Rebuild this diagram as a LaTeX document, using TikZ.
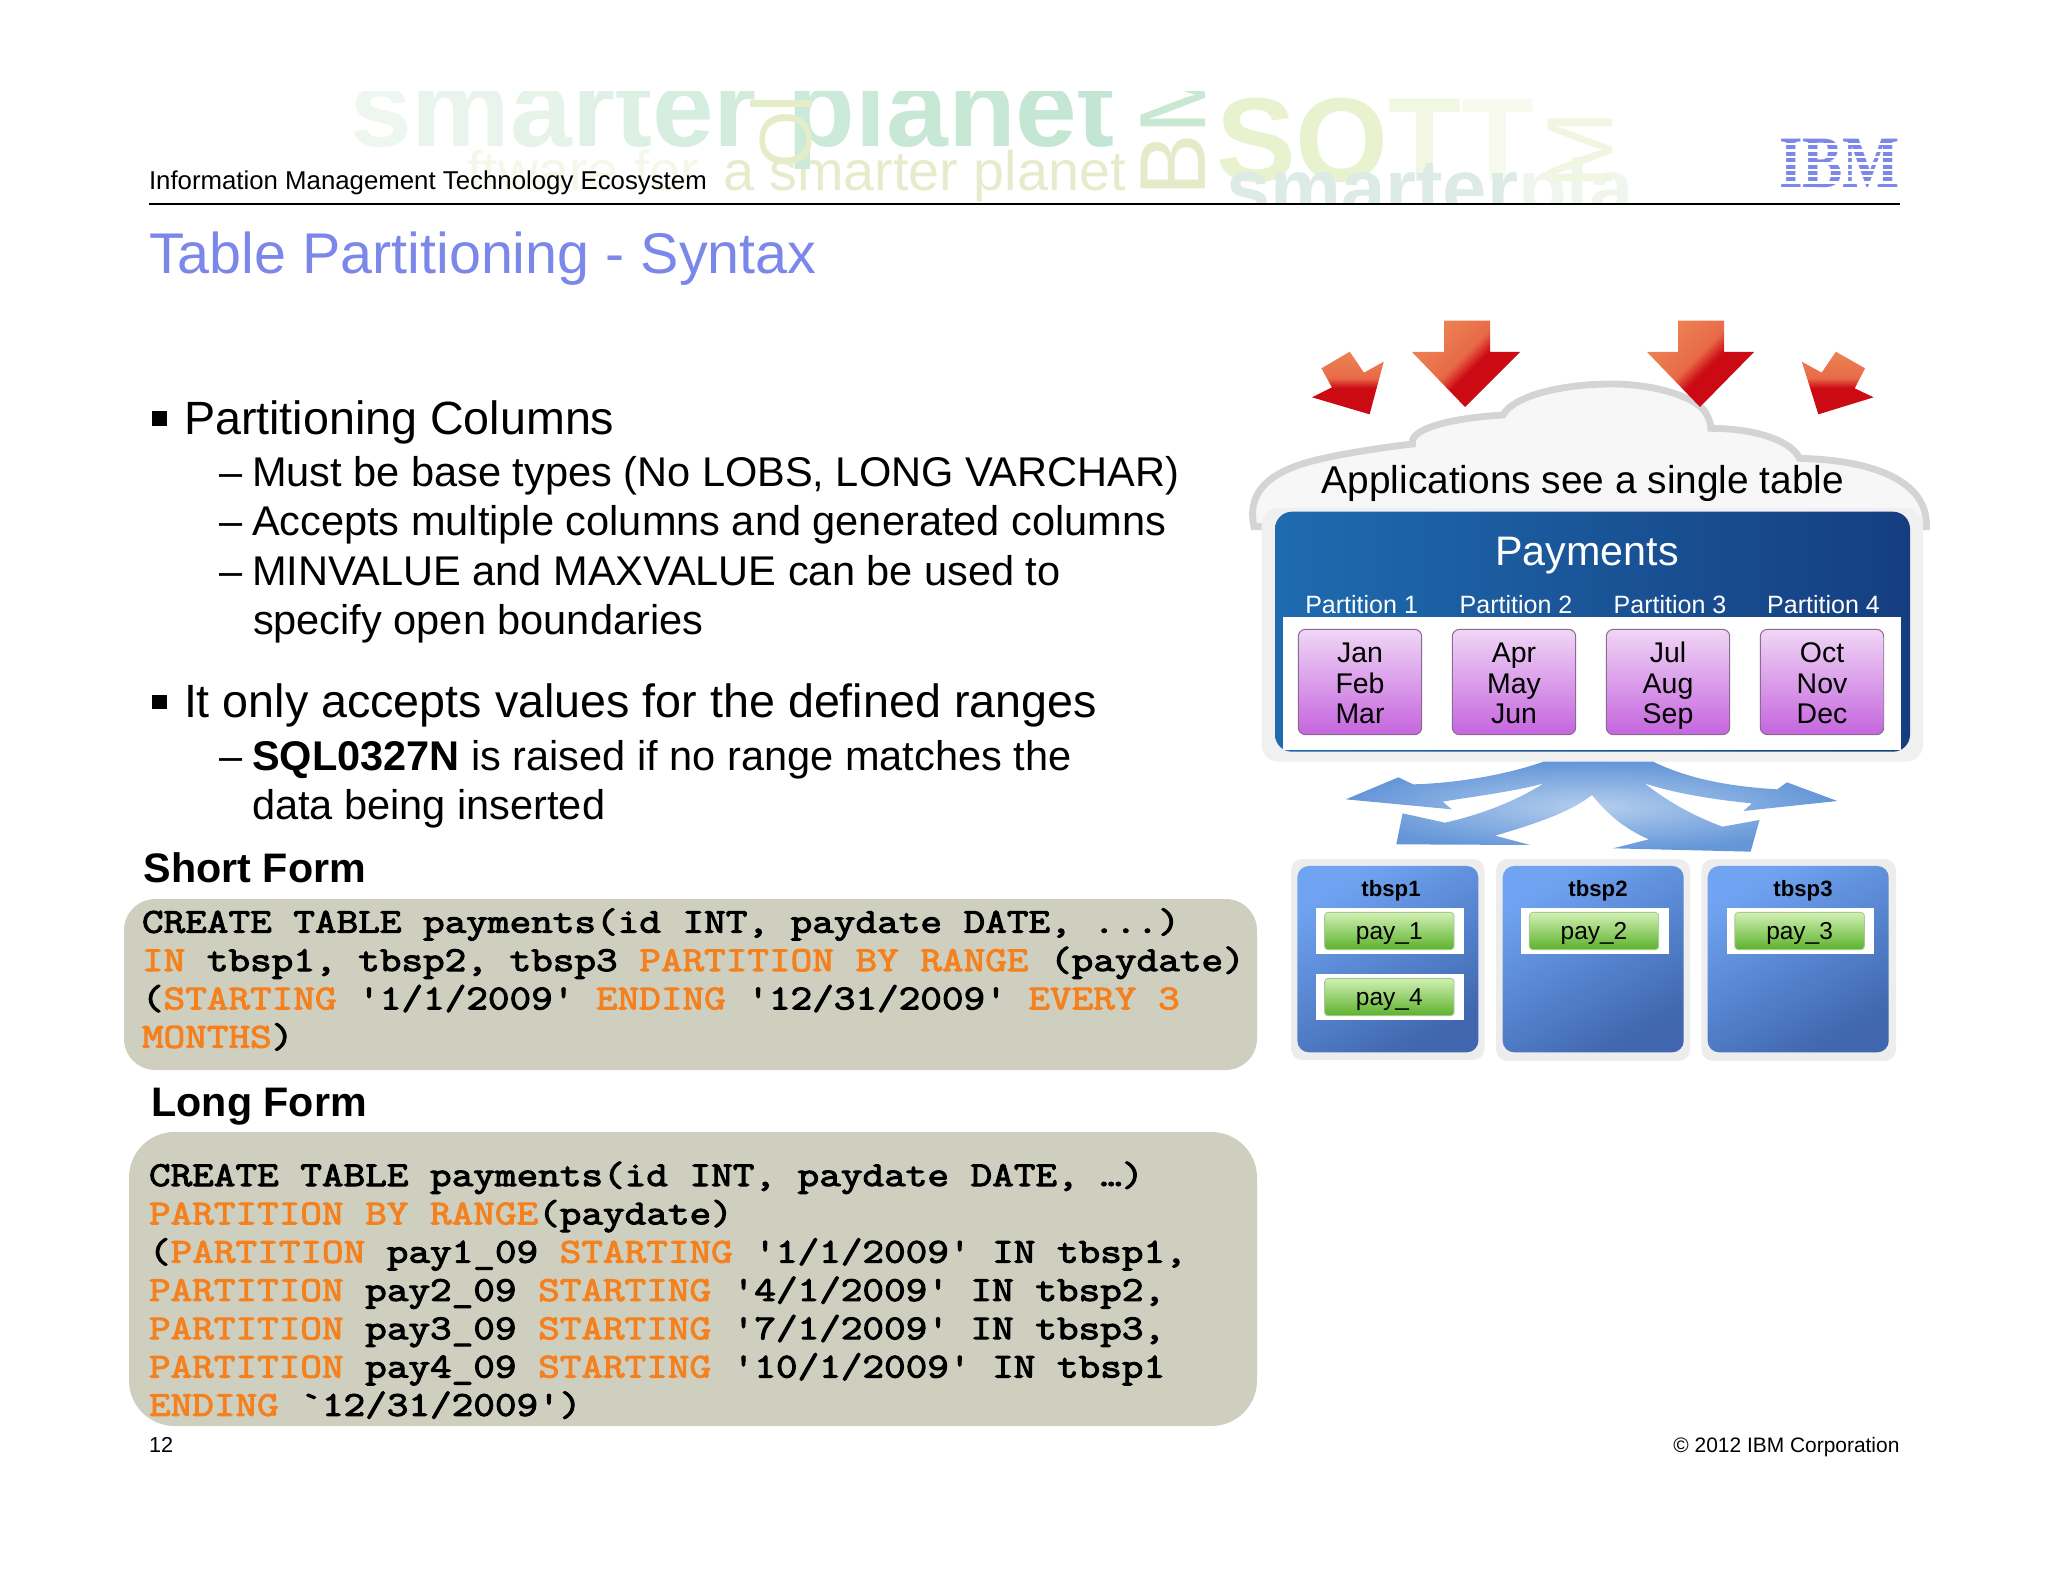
\documentclass[tikz,border=0pt]{standalone}
\usepackage{fontspec}
\usepackage{graphicx}
\setmainfont{Liberation Sans}
\newfontfamily\ibmfont{Liberation Serif}[BoldFont={Liberation Serif Bold}]
\newfontfamily\codefont{Latin Modern Mono}[FakeStretch=1.2,FakeBold=3]
\usetikzlibrary{shadings}
\definecolor{titleblue}{HTML}{7B88EA}
\definecolor{codeor}{HTML}{F5801E}
\definecolor{codebg}{HTML}{CFCFC0}
\definecolor{arrowlt}{HTML}{F2A262}
\definecolor{arrowmd}{HTML}{E86A48}
\definecolor{arrowdk}{HTML}{CC0A14}
\definecolor{MonthEdge}{HTML}{8A6A90}
\definecolor{PayEdge}{HTML}{A9C795}
\definecolor{monthtop}{HTML}{F0D6F5}
\definecolor{monthbot}{HTML}{C565DE}
\definecolor{paytop}{HTML}{D2F0B4}
\definecolor{paybot}{HTML}{5CB22C}
\definecolor{tstop}{HTML}{70A4F2}
\definecolor{tsbot}{HTML}{3F66AE}
\definecolor{panell}{HTML}{1E6BAF}
\definecolor{panelr}{HTML}{153E80}
\definecolor{flowin}{HTML}{B4CEEE}
\definecolor{flowout}{HTML}{6496D8}
\definecolor{wmolive}{HTML}{E6ECCB}
\definecolor{wmfaint}{HTML}{F5F7EA}
\definecolor{wmpale}{HTML}{F0F6E2}
\definecolor{wmring}{HTML}{E5EDC8}
\pgfdeclareverticalshading{arrowshade}{100bp}{color(0bp)=(arrowdk); color(46bp)=(arrowdk); color(54bp)=(arrowmd); color(100bp)=(arrowlt)}
\newcommand{\myfs}[1]{\fontsize{#1}{#1}\selectfont}
\newcommand{\kw}[1]{\textcolor{codeor}{#1}}
\newcommand{\monthtop}{\rule{0pt}{11.1pt}}
\newcommand{\paytopgap}{\rule{0pt}{8.1pt}}
\tikzset{
  txt/.style={anchor=base west,inner sep=0pt,outer sep=0pt},
  ctxt/.style={anchor=base,inner sep=0pt,outer sep=0pt},
  codeline/.style={txt,font=\codefont\myfs{12.3}},
  codebox/.style={fill=codebg,draw=none},
  headingtxt/.style={txt,font=\bfseries\myfs{14.5}},
  bodya/.style={txt,font=\myfs{16.4}},
  bodyb/.style={txt,font=\myfs{14.6}},
  bulletmark/.style={fill=black,inner sep=0pt,minimum size=5.2pt,anchor=center},
  parttxt/.style={ctxt,text=white,font=\myfs{8.8}},
  monthbox/.style={rounded corners=2.5pt,top color=monthtop,bottom color=monthbot,draw=MonthEdge,line width=.35pt,
    minimum width=43.4pt,minimum height=37pt,inner sep=0pt,align=center,font=\fontsize{10}{10.7}\selectfont},
  paybox/.style={rounded corners=1.2pt,top color=paytop,bottom color=paybot,draw=PayEdge,line width=.3pt,
    minimum width=45.5pt,minimum height=13.1pt,inner sep=0pt,font=\myfs{8.6}},
  paywhite/.style={fill=white,draw=none},
  tbspout/.style={fill=black!7,draw=none,rounded corners=4pt},
  tbspin/.style={rounded corners=4pt,top color=tstop,bottom color=tsbot,shading angle=30,draw=none},
  redarrow/.style={shading=arrowshade,draw=none},
  wm/.style={inner sep=0pt,outer sep=0pt}
}
\begin{document}
\begin{tikzpicture}[x=0.3515625pt,y=-0.3515625pt]
\useasboundingbox (0,0) rectangle (2048,1582);
% watermark
\begin{scope}
\clip (100,92) rectangle (1900,204);
\node[wm,txt,font=\bfseries\myfs{42}] (wmsoft) at (1216,182) {\textcolor[HTML]{E9F2CF}{SO}\textcolor[HTML]{F2F7E4}{T}\textcolor[HTML]{F8FAF0}{T}};
\node[wm,txt,font=\myfs{19.6},text=wmfaint] (wmsoftware) at (467,191) {ftware for};
\node[wm,txt,font=\myfs{19.6},text=wmolive] (wmsmall) at (723,191) {a smarter planet};
\node[wm,txt,font=\bfseries\myfs{28}] (wmbottom) at (1226,216) {\textcolor[HTML]{DCEBE6}{smarter}\textcolor[HTML]{F0F6EE}{ pla}};
\node[wm,txt,font=\bfseries\myfs{39}] (wmbig) at (350,147) {\textcolor[HTML]{EDF6EF}{s}\textcolor[HTML]{E9F5EC}{m}\textcolor[HTML]{E5F3E9}{a}\textcolor[HTML]{DFF1E6}{r}\textcolor[HTML]{DCF0E4}{t}\textcolor[HTML]{D6EEE0}{e}\textcolor[HTML]{D2ECDC}{r} \textcolor[HTML]{CCEADA}{p}\textcolor[HTML]{CAE9D8}{l}\textcolor[HTML]{C8E8D6}{a}\textcolor[HTML]{C6E8D5}{n}\textcolor[HTML]{C4E7D4}{e}\textcolor[HTML]{C2E6D3}{t}};
\node[wm,txt,rotate=90,font=\myfs{33}] (wmbm) at (1205,197) {\textcolor[HTML]{E3EBC8}{B}\textcolor[HTML]{C8E8D2}{M}};
\node[wm,txt,rotate=90,font=\myfs{33},text=wmpale] (wmm) at (1612,190) {M};
\node[wm,anchor=center,rotate=90,font=\myfs{26},text=wmring] (wmo) at (786,140) {O};
\fill[wmring] (750,100) rectangle (812,107);
\end{scope}
% header
\node[txt,font=\myfs{9.07}] (header) at (149,190) {Information Management Technology Ecosystem};
\coordinate (ruleL) at (149,204);
\coordinate (ruleR) at (1900,204);
\draw[line width=.9pt,black] (ruleL) -- (ruleR);
\node[txt,font=\myfs{20.2},text=titleblue] (title) at (149,274) {Table Partitioning - Syntax};
% IBM logo
\node[inner sep=0pt,outer sep=0pt,anchor=center,text=titleblue,font=\ibmfont\bfseries] (ibm) at (1839.5,163) {\resizebox{42.5pt}{17pt}{IBM}};
\foreach \k in {0,...,6}{\fill[white] (1775,{143+\k*6.4}) rectangle (1905,{145.4+\k*6.4});}
% body
\node[bulletmark] (b1) at (159.5,418.5) {};
\node[bodya] (t1) at (184,435) {Partitioning Columns};
\node[bodyb] (d1) at (219.5,486.5) {–};
\node[bodyb] (t2) at (252,486.5) {Must be base types (No LOBS, LONG VARCHAR)};
\node[bodyb] (d2) at (219.5,536) {–};
\node[bodyb] (t3) at (252,536) {Accepts multiple columns and generated columns};
\node[bodyb] (d3) at (219.5,585.5) {–};
\node[bodyb] (t4) at (252,585.5) {MINVALUE and MAXVALUE can be used to};
\node[bodyb] (t5) at (253,635) {specify open boundaries};
\node[bulletmark] (b2) at (159.5,702) {};
\node[bodya] (t6) at (184,718) {It only accepts values for the defined ranges};
\node[bodyb] (d4) at (219.5,770.5) {–};
\node[bodyb] (t7) at (252,770.5) {\textbf{SQL0327N} is raised if no range matches the};
\node[bodyb] (t8) at (252,820) {data being inserted};
% short form
\node[headingtxt] (short) at (143.7,882.5) {Short Form};
\path[codebox,rounded corners=11pt] (124,899) rectangle (1257,1070);
\node[codeline] (s1) at (142,932.7) {CREATE TABLE payments(id INT, paydate DATE, ...)};
\node[codeline] (s2) at (142,971) {\kw{IN} tbsp1, tbsp2, tbsp3 \kw{PARTITION BY RANGE} (paydate)};
\node[codeline] (s3) at (142,1009.3) {(\kw{STARTING} '1/1/2009' \kw{ENDING} '12/31/2009' \kw{EVERY 3}};
\node[codeline] (s4) at (142,1047.6) {\kw{MONTHS})};
% long form
\node[headingtxt] (long) at (151.5,1116) {Long Form};
\path[codebox,rounded corners=16pt] (129,1132) rectangle (1257,1426);
\node[codeline] (l1) at (149,1186) {CREATE TABLE payments(id INT, paydate DATE, …)};
\node[codeline] (l2) at (149,1224.3) {\kw{PARTITION BY RANGE}(paydate)};
\node[codeline] (l3) at (149,1262.6) {(\kw{PARTITION} pay1\_09 \kw{STARTING} '1/1/2009' IN tbsp1,};
\node[codeline] (l4) at (149,1300.9) {\kw{PARTITION} pay2\_09 \kw{STARTING} '4/1/2009' IN tbsp2,};
\node[codeline] (l5) at (149,1339.2) {\kw{PARTITION} pay3\_09 \kw{STARTING} '7/1/2009' IN tbsp3,};
\node[codeline] (l6) at (149,1377.5) {\kw{PARTITION} pay4\_09 \kw{STARTING} '10/1/2009' IN tbsp1};
\node[codeline] (l7) at (149,1415.8) {\kw{ENDING} `12/31/2009')};
% footer
\node[txt,font=\myfs{7.6}] (page) at (149,1452.5) {12};
\node[anchor=base east,inner sep=0pt,font=\myfs{7.36}] (copy) at (1900,1452.5) {© 2012 IBM Corporation};
% cloud
\begin{scope}[shift={(1220,300)},xscale=0.4719,yscale=0.33333]
\draw[fill=black!3,draw=black!17,line width=2.4pt]
 (72,680) .. controls (60,600) and (80,520) .. (210,478)
 .. controls (280,455) and (360,440) .. (408,432)
 .. controls (400,390) and (480,355) .. (600,345)
 .. controls (620,290) and (720,252) .. (830,252)
 .. controls (920,252) and (1010,290) .. (1030,340)
 .. controls (1040,370) .. (1040,385)
 .. controls (1130,385) and (1210,420) .. (1228,475)
 .. controls (1380,480) and (1500,540) .. (1497,680) -- cycle;
\end{scope}
\path[fill=black!6,rounded corners=6pt] (1261.5,508) rectangle (1923,761.7);
% red arrows
\path[redarrow,shading angle=45] (1444,320.7) -- (1490,320.7) -- (1490,352) -- (1520,352) -- (1465,407) -- (1412,352) -- (1444,352) -- cycle;
\path[redarrow,shading angle=45] (1678,320.7) -- (1724,320.7) -- (1724,352) -- (1754,352) -- (1700,407) -- (1647,352) -- (1678,352) -- cycle;
\begin{scope}[shift={(1220,300)},xscale=0.4719,yscale=0.33333]
\path[redarrow] (215,205) -- (275,155) -- (305,218) -- (347,185) -- (317,343) -- (195,292) -- (237,262) -- cycle;
\path[redarrow] (1305,155) -- (1367,205) -- (1345,265) -- (1385,292) -- (1268,343) -- (1233,185) -- (1275,218) -- cycle;
\end{scope}
\node[ctxt,font=\myfs{13.65}] (apps) at (1583,494) {Applications see a single table};
% panel
\path[rounded corners=6pt,left color=panell,right color=panelr] (1275,511.7) rectangle (1910,751.7);
\fill[white] (1283,616.7) rectangle (1900.5,750);
\node[ctxt,text=white,font=\myfs{14.5}] (payments) at (1587,566) {Payments};
\node[parttxt] (p1) at (1361.6,614) {Partition 1};
\node[parttxt] (p2) at (1516,614) {Partition 2};
\node[parttxt] (p3) at (1670,614) {Partition 3};
\node[parttxt] (p4) at (1823.5,614) {Partition 4};
\node[monthbox] (m1) at (1360,682) {\monthtop Jan\strut\\Feb\strut\\Mar\strut};
\node[monthbox] (m2) at (1514,682) {\monthtop Apr\strut\\May\strut\\Jun\strut};
\node[monthbox] (m3) at (1668,682) {\monthtop Jul\strut\\Aug\strut\\Sep\strut};
\node[monthbox] (m4) at (1822,682) {\monthtop Oct\strut\\Nov\strut\\Dec\strut};
% blue branching arrows
\begin{scope}[shift={(1270,750)},xscale=0.4209,yscale=0.33333]
\shade[inner color=flowin,outer color=flowout]
 (650,35) .. controls (560,75) and (440,100) .. (340,103) -- (305,82) -- (180,148) -- (432,178) -- (410,155)
 .. controls (480,140) and (580,125) .. (650,100)
 .. controls (590,150) and (500,195) .. (415,218) -- (315,190) -- (300,283) -- (618,285) -- (535,257)
 .. controls (620,225) and (710,190) .. (765,135)
 .. controls (800,190) and (840,235) .. (900,268) -- (815,295) -- (1142,305) -- (1163,210) -- (1075,230)
 .. controls (1000,195) and (940,150) .. (890,100)
 .. controls (960,130) and (1060,150) .. (1145,160) -- (1125,183) -- (1348,153) -- (1228,97) -- (1205,118)
 .. controls (1100,110) and (1000,90) .. (910,35) -- cycle;
\end{scope}
% tablespaces
\path[tbspout] (1291,859) rectangle (1484.6,1060);
\path[tbspout] (1496,859) rectangle (1690,1061);
\path[tbspout] (1701.4,859) rectangle (1896,1061);
\path[tbspin] (1297.4,866) rectangle (1478.3,1052.3);
\path[tbspin] (1502.7,866) rectangle (1683.7,1052.3);
\path[tbspin] (1707.7,866) rectangle (1888.7,1052.3);
\node[ctxt,font=\bfseries\myfs{7.8}] (ts1) at (1391,896.5) {tbsp1};
\node[ctxt,font=\bfseries\myfs{7.8}] (ts2) at (1598,896.5) {tbsp2};
\node[ctxt,font=\bfseries\myfs{7.8}] (ts3) at (1803,896.5) {tbsp3};
\path[paywhite] (1316,908) rectangle (1463.6,953.7);
\path[paywhite] (1316,974) rectangle (1463.6,1020);
\path[paywhite] (1521.3,908) rectangle (1668.6,953.7);
\path[paywhite] (1726.6,908) rectangle (1874,953.7);
\node[paybox] (g1) at (1389.3,931) {\paytopgap pay\_1};
\node[paybox] (g4) at (1389.3,997) {\paytopgap pay\_4};
\node[paybox] (g2) at (1594,931) {\paytopgap pay\_2};
\node[paybox] (g3) at (1799.6,931) {\paytopgap pay\_3};
\end{tikzpicture}
\end{document}
